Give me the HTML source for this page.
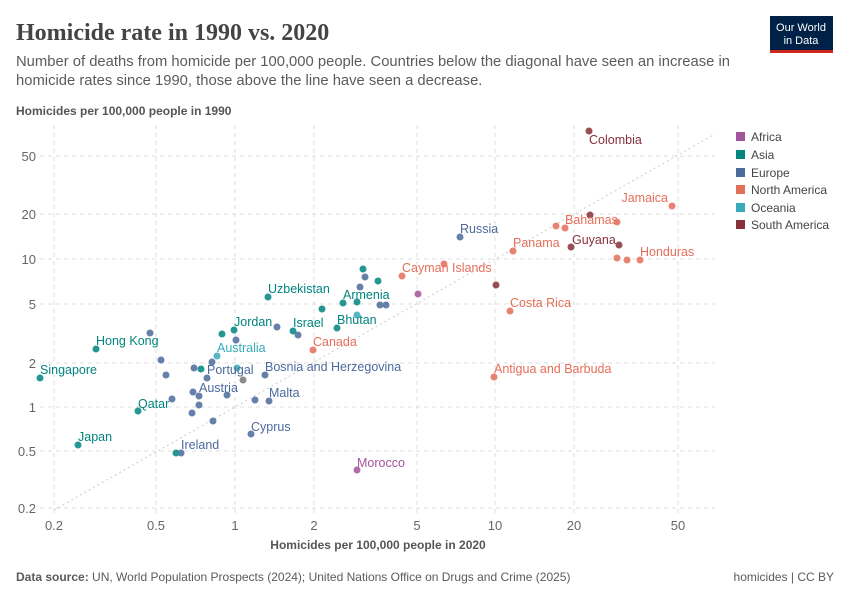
<!DOCTYPE html>
<html><head><meta charset="utf-8"><style>
body{margin:0;background:#fff;}
svg text{font-family:"Liberation Sans",sans-serif;}
</style></head><body>
<svg width="850" height="600" xmlns="http://www.w3.org/2000/svg">
<text x="16" y="40" font-size="24" font-weight="bold" fill="#444" style="font-family:'Liberation Serif',serif">Homicide rate in 1990 vs. 2020</text>
<text x="16" y="66" font-size="14.8" fill="#5b5b5b">Number of deaths from homicide per 100,000 people. Countries below the diagonal have seen an increase in</text>
<text x="16" y="85" font-size="14.8" fill="#5b5b5b">homicide rates since 1990, those above the line have seen a decrease.</text>
<rect x="770" y="16" width="63" height="34" fill="#002147"/>
<rect x="770" y="50" width="63" height="3" fill="#ce261e"/>
<text x="801" y="31" font-size="11" fill="#fff" text-anchor="middle">Our World</text>
<text x="801" y="44" font-size="11" fill="#fff" text-anchor="middle">in Data</text>
<text x="16" y="115" font-size="12" font-weight="bold" fill="#555">Homicides per 100,000 people in 1990</text>
<g stroke="#ddd" stroke-dasharray="4,4" stroke-width="1">
<line x1="54" y1="125" x2="54" y2="515"/><line x1="156" y1="125" x2="156" y2="515"/><line x1="235" y1="125" x2="235" y2="515"/><line x1="314" y1="125" x2="314" y2="515"/><line x1="417" y1="125" x2="417" y2="515"/><line x1="495" y1="125" x2="495" y2="515"/><line x1="574" y1="125" x2="574" y2="515"/><line x1="678" y1="125" x2="678" y2="515"/>
<line x1="40" y1="156" x2="715" y2="156"/><line x1="40" y1="214" x2="715" y2="214"/><line x1="40" y1="259" x2="715" y2="259"/><line x1="40" y1="304" x2="715" y2="304"/><line x1="40" y1="363" x2="715" y2="363"/><line x1="40" y1="407" x2="715" y2="407"/><line x1="40" y1="451" x2="715" y2="451"/><line x1="40" y1="508" x2="715" y2="508"/>
</g>
<line x1="54" y1="510" x2="715" y2="134" stroke="#ccc" stroke-dasharray="2,3"/>
<g font-size="13" fill="#666" text-anchor="end">
<text x="36" y="161">50</text><text x="36" y="219">20</text><text x="36" y="264">10</text><text x="36" y="309">5</text><text x="36" y="368">2</text><text x="36" y="412">1</text><text x="36" y="456">0.5</text><text x="36" y="513">0.2</text>
</g>
<g font-size="13" fill="#666" text-anchor="middle">
<text x="54" y="530">0.2</text><text x="156" y="530">0.5</text><text x="235" y="530">1</text><text x="314" y="530">2</text><text x="417" y="530">5</text><text x="495" y="530">10</text><text x="574" y="530">20</text><text x="678" y="530">50</text>
</g>
<text x="378" y="549" font-size="12" font-weight="bold" fill="#555" text-anchor="middle">Homicides per 100,000 people in 2020</text>
<g opacity="0.85">
<g fill="#4c6a9c">
<circle cx="460" cy="237" r="3.5"/><circle cx="365" cy="277" r="3.5"/><circle cx="360" cy="287" r="3.5"/><circle cx="380" cy="305" r="3.5"/><circle cx="386" cy="305" r="3.5"/><circle cx="277" cy="327" r="3.5"/><circle cx="298" cy="335" r="3.5"/><circle cx="150" cy="333" r="3.5"/><circle cx="161" cy="360" r="3.5"/><circle cx="166" cy="375" r="3.5"/><circle cx="236" cy="340" r="3.5"/><circle cx="194" cy="368" r="3.5"/><circle cx="212" cy="362" r="3.5"/><circle cx="207" cy="378" r="3.5"/><circle cx="243" cy="380" r="3.5" fill="#777"/><circle cx="265" cy="375" r="3.5"/><circle cx="193" cy="392" r="3.5"/><circle cx="199" cy="396" r="3.5"/><circle cx="227" cy="395" r="3.5"/><circle cx="199" cy="405" r="3.5"/><circle cx="192" cy="413" r="3.5"/><circle cx="172" cy="399" r="3.5"/><circle cx="255" cy="400" r="3.5"/><circle cx="269" cy="401" r="3.5"/><circle cx="213" cy="421" r="3.5"/><circle cx="251" cy="434" r="3.5"/><circle cx="181" cy="453" r="3.5"/>
</g>
<g fill="#00847e">
<circle cx="268" cy="297" r="3.5"/><circle cx="363" cy="269" r="3.5"/><circle cx="378" cy="281" r="3.5"/><circle cx="343" cy="303" r="3.5"/><circle cx="357" cy="302" r="3.5"/><circle cx="322" cy="309" r="3.5"/><circle cx="337" cy="328" r="3.5"/><circle cx="234" cy="330" r="3.5"/><circle cx="222" cy="334" r="3.5"/><circle cx="293" cy="331" r="3.5"/><circle cx="96" cy="349" r="3.5"/><circle cx="40" cy="378" r="3.5"/><circle cx="201" cy="369" r="3.5"/><circle cx="138" cy="411" r="3.5"/><circle cx="78" cy="445" r="3.5"/><circle cx="176" cy="453" r="3.5"/>
</g>
<g fill="#38aaba"><circle cx="357" cy="315" r="3.5"/><circle cx="217" cy="356" r="3.5"/><circle cx="237" cy="368" r="3.5"/></g>
<g fill="#e56e5a">
<circle cx="672" cy="206" r="3.5"/><circle cx="556" cy="226" r="3.5"/><circle cx="565" cy="228" r="3.5"/><circle cx="617" cy="222" r="3.5"/><circle cx="513" cy="251" r="3.5"/><circle cx="617" cy="258" r="3.5"/><circle cx="627" cy="260" r="3.5"/><circle cx="640" cy="260" r="3.5"/><circle cx="402" cy="276" r="3.5"/><circle cx="444" cy="264" r="3.5"/><circle cx="510" cy="311" r="3.5"/><circle cx="313" cy="350" r="3.5"/><circle cx="494" cy="377" r="3.5"/>
</g>
<g fill="#883039"><circle cx="589" cy="131" r="3.5"/><circle cx="590" cy="215" r="3.5"/><circle cx="571" cy="247" r="3.5"/><circle cx="619" cy="245" r="3.5"/><circle cx="496" cy="285" r="3.5"/></g>
<g fill="#a2559c"><circle cx="418" cy="294" r="3.5"/><circle cx="357" cy="470" r="3.5"/></g>
</g>
<g font-size="12.5">
<text x="589" y="144" fill="#883039">Colombia</text>
<text x="668" y="202" fill="#e56e5a" text-anchor="end">Jamaica</text>
<text x="565" y="224" fill="#e56e5a">Bahamas</text>
<text x="460" y="233" fill="#4c6a9c">Russia</text>
<text x="513" y="247" fill="#e56e5a">Panama</text>
<text x="572" y="244" fill="#883039">Guyana</text>
<text x="640" y="256" fill="#e56e5a">Honduras</text>
<text x="402" y="272" fill="#e56e5a">Cayman Islands</text>
<text x="268" y="293" fill="#00847e">Uzbekistan</text>
<text x="343" y="299" fill="#00847e">Armenia</text>
<text x="337" y="324" fill="#00847e">Bhutan</text>
<text x="234" y="326" fill="#00847e">Jordan</text>
<text x="293" y="327" fill="#00847e">Israel</text>
<text x="510" y="307" fill="#e56e5a">Costa Rica</text>
<text x="313" y="346" fill="#e56e5a">Canada</text>
<text x="217" y="352" fill="#38aaba">Australia</text>
<text x="96" y="345" fill="#00847e">Hong Kong</text>
<text x="40" y="374" fill="#00847e">Singapore</text>
<text x="207" y="374" fill="#4c6a9c">Portugal</text>
<text x="265" y="371" fill="#4c6a9c">Bosnia and Herzegovina</text>
<text x="199" y="392" fill="#4c6a9c">Austria</text>
<text x="269" y="397" fill="#4c6a9c">Malta</text>
<text x="138" y="408" fill="#00847e">Qatar</text>
<text x="251" y="431" fill="#4c6a9c">Cyprus</text>
<text x="78" y="441" fill="#00847e">Japan</text>
<text x="181" y="449" fill="#4c6a9c">Ireland</text>
<text x="357" y="467" fill="#a2559c">Morocco</text>
<text x="494" y="373" fill="#e56e5a">Antigua and Barbuda</text>
</g>
<g font-size="12" fill="#444">
<rect x="736" y="132" width="9" height="9" fill="#a2559c"/><text x="751" y="141">Africa</text>
<rect x="736" y="150" width="9" height="9" fill="#00847e"/><text x="751" y="159">Asia</text>
<rect x="736" y="168" width="9" height="9" fill="#4c6a9c"/><text x="751" y="177">Europe</text>
<rect x="736" y="185" width="9" height="9" fill="#e56e5a"/><text x="751" y="194">North America</text>
<rect x="736" y="203" width="9" height="9" fill="#38aaba"/><text x="751" y="212">Oceania</text>
<rect x="736" y="220" width="9" height="9" fill="#883039"/><text x="751" y="229">South America</text>
</g>
<text x="16" y="581" font-size="12" fill="#5b5b5b"><tspan font-weight="bold">Data source: </tspan>UN, World Population Prospects (2024); United Nations Office on Drugs and Crime (2025)</text>
<text x="834" y="581" font-size="12" fill="#5b5b5b" text-anchor="end">homicides | CC BY</text>
</svg>
</body></html>
